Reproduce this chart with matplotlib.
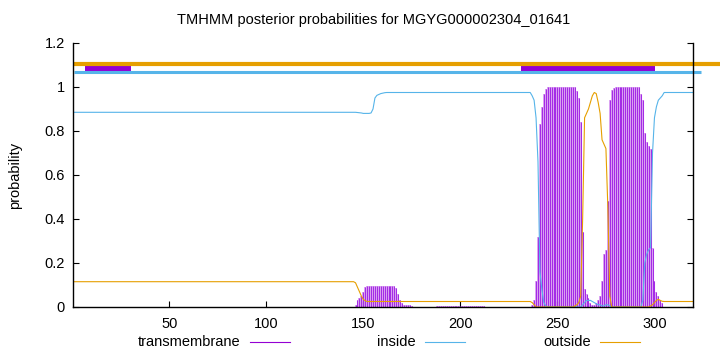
import numpy as np
import matplotlib
matplotlib.use("Agg")
import matplotlib.pyplot as plt
from matplotlib.lines import Line2D

plt.rcParams['font.family'] = ['Liberation Sans', 'DejaVu Sans']

# sequence positions 1..320
residues = np.arange(1, 321)

# posterior probabilities, per residue
tm_prob = ([0.0] * 145
           + [0.01, 0.03, 0.04, 0.05, 0.07, 0.09] + [0.095] * 15
           + [0.085, 0.06, 0.03, 0.02, 0.01, 0.01, 0.01, 0.01, 0.005]
           + [0.0] * 12 + [0.006] * 25 + [0.0] * 24
           + [0.01, 0.03, 0.12, 0.32, 0.83, 0.91, 0.97, 0.99] + [1.0] * 15
           + [0.98, 0.95, 0.84, 0.34, 0.08, 0.06, 0.04, 0.02]
           + [0.01, 0.01, 0.02, 0.03, 0.05]
           + [0.12, 0.24, 0.26, 0.48, 0.94, 0.985, 0.995] + [1.0] * 13
           + [0.97, 0.94, 0.79, 0.75, 0.73, 0.72, 0.27, 0.12, 0.07, 0.05, 0.03, 0.02]
           + [0.0] * 16)

inside_prob = ([0.885] * 145
               + [0.885, 0.884, 0.883, 0.882, 0.88, 0.88, 0.88, 0.88, 0.882, 0.9]
               + [0.95, 0.962, 0.966, 0.97, 0.972, 0.974] + [0.975] * 14
               + [0.975] * 61
               + [0.96, 0.94, 0.86, 0.66, 0.16, 0.08, 0.02, 0.005]
               + [0.0] * 18
               + [0.01, 0.02, 0.03, 0.03, 0.03, 0.025, 0.02, 0.015, 0.01, 0.01, 0.005, 0.005, 0.01, 0.01, 0.005]
               + [0.0] * 16
               + [0.03, 0.2, 0.24, 0.26, 0.27, 0.7, 0.86, 0.91, 0.94, 0.95, 0.96]
               + [0.975] * 16)

outside_prob = ([0.115] * 145
                + [0.11, 0.09, 0.07, 0.05, 0.035, 0.028]
                + [0.025] * 85
                + [0.02, 0.01] + [0.0] * 20 + [0.005, 0.01, 0.02]
                + [0.05, 0.4, 0.86, 0.88, 0.9, 0.93, 0.96, 0.975, 0.97, 0.93, 0.88, 0.76, 0.74, 0.72, 0.45, 0.05]
                + [0.0] * 20
                + [0.005, 0.01, 0.02, 0.03, 0.035, 0.03, 0.026]
                + [0.025] * 16)

# predicted topology bar on top: (start, end, bottom, top)
tm_boxes = [(6.5, 25.5, 1.073, 1.102), (25.5, 30.5, 1.073, 1.098),
            (231.0, 236.5, 1.062, 1.096), (236.5, 264.5, 1.062, 1.109),
            (264.5, 277.5, 1.062, 1.096), (277.5, 300.5, 1.062, 1.109)]
outside_bar = (1, 334, 1.106)
inside_bar = (1, 324, 1.068)

x_ticks = [50, 100, 150, 200, 250, 300]
y_ticks = [0, 0.2, 0.4, 0.6, 0.8, 1, 1.2]
y_labels = ['0', '0.2', '0.4', '0.6', '0.8', '1', '1.2']

c_tm = '#9400D3'
c_tm_light = '#DCA6F2'
c_in = '#56B4E9'
c_out = '#E69F00'
fs = 10.5

fig = plt.figure(figsize=(7.2, 3.52), dpi=100)
ax = fig.add_axes([73.3 / 720, 1 - 307 / 352, (692.5 - 73.3) / 720, (307 - 43) / 352])

ax.bar(residues, tm_prob, width=1.0, color=c_tm_light, linewidth=0)
ax.vlines(residues, 0, tm_prob, colors='#A42BE6', linewidth=0.75)
ax.plot(residues, inside_prob, color=c_in, linewidth=0.8)
ax.plot(residues, outside_prob, color=c_out, linewidth=0.8)

ax.plot([outside_bar[0], outside_bar[1]], [outside_bar[2]] * 2, color=c_out,
        linewidth=3.0, solid_capstyle='butt', clip_on=False)
ax.plot([inside_bar[0], inside_bar[1]], [inside_bar[2]] * 2, color=c_in,
        linewidth=2.2, solid_capstyle='butt', clip_on=False)
for x0, x1, y0, y1 in tm_boxes:
    ax.fill_between([x0, x1], y0, y1, color=c_tm, linewidth=0)

ax.set_xlim(0.6, 319.6)
ax.set_ylim(0, 1.2)
ax.set_xticks(x_ticks)
ax.set_yticks(y_ticks)
ax.set_yticklabels(y_labels)
ax.tick_params(axis='both', direction='in', length=4, width=0.8, labelsize=fs, colors='black')
ax.tick_params(axis='y', right=True, pad=6)
ax.tick_params(axis='x', pad=7)
ax.spines['top'].set_visible(False)
for s in ['left', 'right', 'bottom']:
    ax.spines[s].set_linewidth(1.0)

ax.set_ylabel('probability', fontsize=fs, labelpad=16)
fig.text(374 / 720, 1 - 20 / 352, 'TMHMM posterior probabilities for MGYG000002304_01641',
         ha='center', va='center', fontsize=fs)

# legend below the axis, gnuplot style: label then sample line
legend_items = [('transmembrane', c_tm, 240, 250), ('inside', c_in, 416, 425),
                ('outside', c_out, 591, 600)]
ly = 1 - 342 / 352
for label, col, tx, lx in legend_items:
    fig.text(tx / 720, ly, label, ha='right', va='center', fontsize=fs)
    fig.add_artist(Line2D([lx / 720, (lx + 40) / 720], [ly, ly], color=col, linewidth=0.8))

fig.savefig('out.png', dpi=100)
